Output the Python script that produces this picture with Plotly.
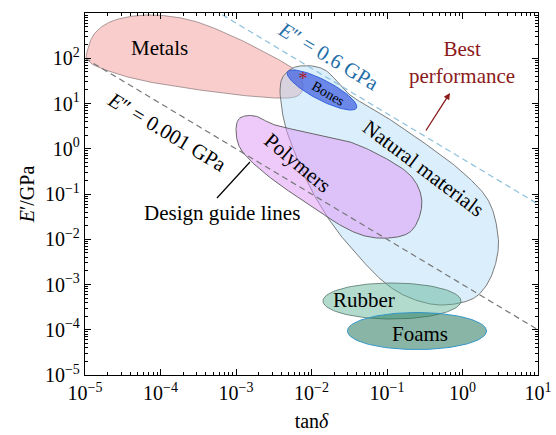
import numpy as np
import plotly.graph_objects as go

# ---- axis range (decades) ----
x_decades = [-5, -4, -3, -2, -1, 0, 1]
y_decades = [-5, -4, -3, -2, -1, 0, 1, 2, 3]

# ---- material property regions: outlines as log10(tan delta), log10(E'/GPa) ----
metals_log_tan = [-4.974, -4.868, -4.603, -4.139, -3.609, -3.079, -2.550, -2.219,
                  -2.113, -2.219, -2.682, -3.477, -4.272, -4.801, -4.960]
metals_log_mod = [2.138, 2.558, 2.845, 2.956, 2.845, 2.514, 2.072, 1.740,
                  1.409, 1.144, 1.144, 1.298, 1.519, 1.785, 1.961]

natural_log_tan = [-2.417, -2.351, -2.152, -1.821, -1.490, -1.093, -0.563, -0.033,
                   0.338, 0.470, 0.444, 0.311, 0.099, -0.298, -0.695, -1.026,
                   -1.358, -1.689, -1.980, -2.192, -2.351]
natural_log_mod = [1.298, 1.652, 1.829, 1.740, 1.188, 0.790, 0.193, -0.470,
                   -1.133, -1.906, -2.503, -3.033, -3.343, -3.453, -3.298, -2.967,
                   -2.414, -1.751, -0.978, -0.204, 0.525]

polymers_log_tan = [-2.947, -2.748, -2.483, -2.020, -1.490, -1.026, -0.695, -0.550,
                    -0.563, -0.695, -0.960, -1.291, -1.623, -2.020, -2.417, -2.748,
                    -2.947, -3.000]
polymers_log_mod = [0.680, 0.724, 0.525, 0.348, 0.149, -0.204, -0.580, -1.022,
                    -1.464, -1.840, -1.972, -1.928, -1.685, -1.243, -0.801, -0.359,
                    0.017, 0.414]

# ellipses: centre and two conjugate semi-axis vectors (all in decades)
bones_center = (-1.861, 1.298)
bones_axis_a = (0.457, -0.398)
bones_axis_b = (0.061, 0.196)

rubber_center = (-0.934, -3.365)
rubber_axis_a = (0.914, 0.0)
rubber_axis_b = (0.0, 0.398)

foams_center = (-0.603, -4.028)
foams_axis_a = (0.921, 0.0)
foams_axis_b = (0.0, 0.409)

bone_sample = (-2.113, 1.519)   # log10 coordinates of the marked bone sample

# design guide lines: constant loss modulus E'' = E' * tan(delta), GPa
guide_loss_moduli = [0.001, 0.6]
guide_tan = [1e-5, 10.0]


def closed_spline(lx, ly, n=20):
    """Periodic Catmull-Rom curve through the outline points (log space)."""
    p = np.column_stack([lx, ly])
    m = len(p)
    t = np.linspace(0, 1, n, endpoint=False)[:, None]
    segs = []
    for i in range(m):
        p0, p1, p2, p3 = p[(i - 1) % m], p[i], p[(i + 1) % m], p[(i + 2) % m]
        segs.append(0.5 * (2 * p1 + (-p0 + p2) * t
                           + (2 * p0 - 5 * p1 + 4 * p2 - p3) * t ** 2
                           + (-p0 + 3 * p1 - 3 * p2 + p3) * t ** 3))
    pts = np.vstack(segs + [segs[0][:1]])
    return 10 ** pts[:, 0], 10 ** pts[:, 1]


def ellipse(center, a, b, n=120):
    t = np.linspace(0, 2 * np.pi, n)
    lx = center[0] + np.cos(t) * a[0] + np.sin(t) * b[0]
    ly = center[1] + np.cos(t) * a[1] + np.sin(t) * b[1]
    return 10 ** lx, 10 ** ly


fig = go.Figure()


def region(xy, fill, line_color, width=1.0):
    fig.add_trace(go.Scatter(x=xy[0], y=xy[1], mode="lines", fill="toself",
                             fillcolor=fill, line=dict(color=line_color, width=width),
                             hoverinfo="skip", showlegend=False))


region(closed_spline(metals_log_tan, metals_log_mod), "rgba(244,150,150,0.48)", "rgba(150,130,130,0.8)")
region(closed_spline(natural_log_tan, natural_log_mod), "rgba(170,215,245,0.42)", "rgba(110,110,110,0.9)")
region(closed_spline(polymers_log_tan, polymers_log_mod), "rgba(222,150,245,0.5)", "rgba(90,90,90,0.9)")
region(ellipse(bones_center, bones_axis_a, bones_axis_b), "rgba(70,100,225,0.75)", "rgba(40,90,220,0.9)")
region(ellipse(rubber_center, rubber_axis_a, rubber_axis_b), "rgba(95,180,150,0.48)", "rgba(100,130,120,0.9)")
region(ellipse(foams_center, foams_axis_a, foams_axis_b), "rgba(40,120,95,0.55)", "rgba(50,150,200,1)")

# guide lines
guide_colors = ["#777777", "#8cc0dc"]
for e2, col in zip(guide_loss_moduli, guide_colors):
    xs = np.array(guide_tan)
    fig.add_trace(go.Scatter(x=xs, y=e2 / xs, mode="lines",
                             line=dict(color=col, width=1.2, dash="6px,4px"),
                             hoverinfo="skip", showlegend=False))

FONT = "Liberation Serif"

# marked bone sample
fig.add_trace(go.Scatter(x=[10 ** bone_sample[0]], y=[10 ** bone_sample[1]], mode="text",
                         text=["*"], textfont=dict(color="#b01818", size=18, family=FONT),
                         hoverinfo="skip", showlegend=False))

# pointer from the "Design guide lines" label to the 0.001 GPa line
pointer_log_tan = [-3.252, -2.815]
pointer_log_mod = [-1.088, -0.293]
fig.add_trace(go.Scatter(x=10 ** np.array(pointer_log_tan), y=10 ** np.array(pointer_log_mod),
                         mode="lines", line=dict(color="black", width=1.2),
                         hoverinfo="skip", showlegend=False))


def label(text, lx, ly, size=21, color="black", angle=0):
    fig.add_annotation(x=lx, y=ly, xref="x", yref="y", text=text, showarrow=False,
                       textangle=angle, font=dict(family=FONT, size=size, color=color))


label("Metals", -4.007, 2.227)
label("<i>E</i>″ = 0.6 GPa", -1.781, 2.050, color="#1f6ea8", angle=31)
label("<i>E</i>″ = 0.001 GPa", -3.914, 0.370, angle=31)
label("Polymers", -2.179, -0.315, angle=40)
label("Natural materials", -0.523, -0.425, angle=37)
label("Bones", -1.781, 1.232, size=14, angle=30)
label("Rubber", -1.30, -3.340)
label("Foams", -0.563, -4.094)
label("Design guide lines", -3.185, -1.420)
label("Best<br>performance", -0.007, 1.917, color="#8b1a1a")

# arrow pointing to best performance
fig.add_annotation(x=-0.166, y=1.232, ax=-0.497, ay=0.370, xref="x", yref="y",
                   axref="x", ayref="y", showarrow=True, arrowhead=2, arrowsize=1,
                   arrowwidth=1.3, arrowcolor="#8b1a1a", text="")

major_x = [10.0 ** d for d in x_decades]
major_y = [10.0 ** d for d in y_decades]
minor_x = [k * 10.0 ** d for d in x_decades[:-1] for k in range(2, 10)]
minor_y = [k * 10.0 ** d for d in y_decades[:-1] for k in range(2, 10)]


def sup(d):
    return "10<sup>" + (str(d).replace("-", "−")) + "</sup>"


axis_common = dict(type="log", showgrid=False, zeroline=False, showline=True,
                   linecolor="black", linewidth=1.3, mirror="allticks",
                   ticks="inside", ticklen=6, tickwidth=1.2, tickcolor="black",
                   automargin=False,
                   tickfont=dict(family=FONT, size=20, color="black"))

fig.update_xaxes(range=[-5, 1], tickvals=major_x, ticktext=[sup(d) for d in x_decades],
                 minor=dict(tickvals=minor_x, ticks="inside", ticklen=3, tickcolor="black",
                            tickwidth=1, showgrid=False),
                 title=dict(text="tan<i>δ</i>", font=dict(family=FONT, size=20, color="black"),
                            standoff=10),
                 **axis_common)
fig.update_yaxes(range=[-5, 3], tickvals=major_y, ticktext=[sup(d) for d in y_decades],
                 minor=dict(tickvals=minor_y, ticks="inside", ticklen=3, tickcolor="black",
                            tickwidth=1, showgrid=False),
                 title=dict(text="<i>E</i>′/GPa", font=dict(family=FONT, size=20, color="black"),
                            standoff=4),
                 **axis_common)

fig.update_layout(width=556, height=435, margin=dict(l=85, r=18, t=13, b=60),
                  plot_bgcolor="white", paper_bgcolor="white",
                  font=dict(family=FONT, color="black"))

fig.write_html("out.html")
